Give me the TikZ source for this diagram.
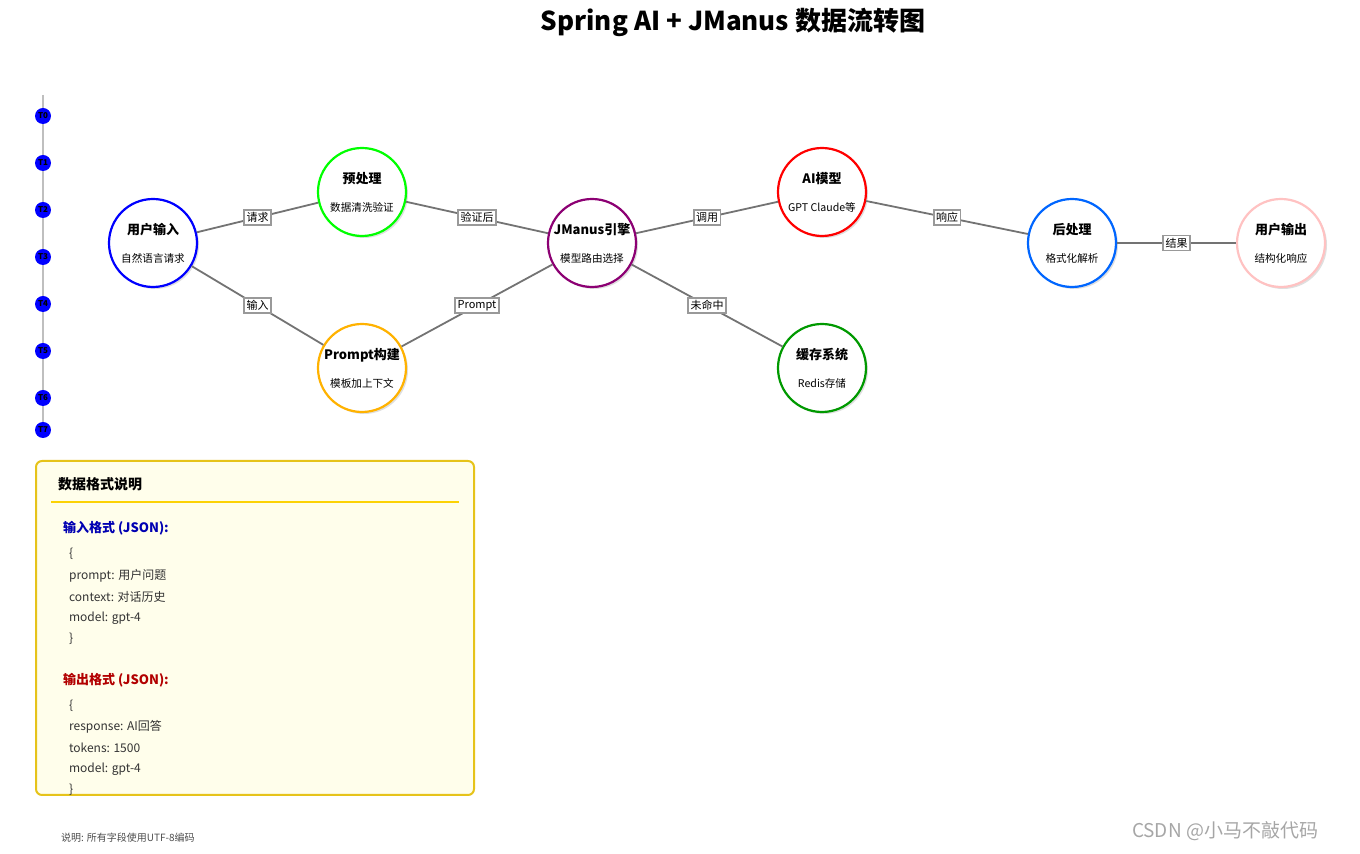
\documentclass[tikz,border=0pt]{standalone}
\usepackage{fontspec}
\setmainfont{Noto Sans CJK SC}
\usetikzlibrary{shadows}
\begin{document}
\begin{tikzpicture}[x=0.5pt,y=-0.5pt,
  proc/.style={circle,draw,line width=1.1pt,minimum size=44pt,inner sep=0pt,fill=white,align=center,
    drop shadow={shadow xshift=1pt,shadow yshift=-1pt,fill=black!25}},
  edge/.style={draw=black!55,line width=0.9pt},
  elab/.style={draw=black!40,fill=white,font=\fontsize{5.5}{6}\selectfont,inner sep=1.2pt},
  tdot/.style={circle,fill=blue,minimum size=8pt,inner sep=0pt,font=\fontsize{4}{4}\selectfont\bfseries},
  txt/.style={anchor=west,font=\fontsize{6}{7}\selectfont,text=black!80}]
\useasboundingbox (0,0) rectangle (1360,854);
\node[font=\fontsize{13}{15}\selectfont\bfseries] (title) at (733,22) {Spring AI + JManus 数据流转图};
% timeline
\coordinate (tl1) at (43,95); \coordinate (tl2) at (43,436);
\draw[black!25,line width=1.2pt] (tl1) -- (tl2);
\foreach \y/\t in {116/T0,163/T1,210/T2,257/T3,304/T4,351/T5,398/T6,430/T7}
  \node[tdot] (\t) at (43,\y) {\t};
\newcommand{\pn}[2]{{\fontsize{6.5}{8}\selectfont\bfseries #1}\\[2pt]{\fontsize{5.3}{6}\selectfont #2}}
\node[proc,draw=blue] (in) at (153,243) {\pn{用户输入}{自然语言请求}};
\node[proc,draw=green] (pre) at (362,192) {\pn{预处理}{数据清洗验证}};
\node[proc,draw=orange!60!yellow] (pr) at (362,368) {\pn{Prompt构建}{模板加上下文}};
\node[proc,draw=violet!80!purple] (jm) at (592,243) {\pn{JManus引擎}{模型路由选择}};
\node[proc,draw=red] (ai) at (822,192) {\pn{AI模型}{GPT Claude等}};
\node[proc,draw=green!60!black] (ca) at (822,368) {\pn{缓存系统}{Redis存储}};
\node[proc,draw=blue!60!cyan] (post) at (1072,243) {\pn{后处理}{格式化解析}};
\node[proc,draw=pink!80!red!60] (out) at (1281,243) {\pn{用户输出}{结构化响应}};
\path[edge] (in) -- node[elab]{请求} (pre);
\path[edge] (in) -- node[elab]{输入} (pr);
\path[edge] (pre) -- node[elab]{验证后} (jm);
\path[edge] (pr) -- node[elab]{Prompt} (jm);
\path[edge] (jm) -- node[elab]{调用} (ai);
\path[edge] (jm) -- node[elab]{未命中} (ca);
\path[edge] (ai) -- node[elab]{响应} (post);
\path[edge] (post) -- node[elab]{结果} (out);
% format box
\draw[draw=yellow!70!orange!90!black,fill=yellow!8,line width=1pt,rounded corners=3pt] (36,461) rectangle (474,795);
\node[anchor=west,font=\fontsize{7}{8}\selectfont\bfseries] (bh) at (51,484) {数据格式说明};
\draw[yellow!70!orange,line width=0.6pt] (51,502) -- (459,502);
\node[anchor=west,font=\fontsize{6.5}{8}\selectfont\bfseries,text=blue!70!black] (ih) at (56,528) {输入格式 (JSON):};
\node[txt] (i1) at (62,554) {\{};
\node[txt] (i2) at (62,576) {prompt: 用户问题};
\node[txt] (i3) at (62,597) {context: 对话历史};
\node[txt] (i4) at (62,618) {model: gpt-4};
\node[txt] (i5) at (62,639) {\}};
\node[anchor=west,font=\fontsize{6.5}{8}\selectfont\bfseries,text=red!70!black] (oh) at (56,680) {输出格式 (JSON):};
\node[txt] (o1) at (62,706) {\{};
\node[txt] (o2) at (62,727) {response: AI回答};
\node[txt] (o3) at (62,748) {tokens: 1500};
\node[txt] (o4) at (62,769) {model: gpt-4};
\node[txt] (o5) at (62,790) {\}};
\node[anchor=west,font=\fontsize{5}{6}\selectfont,text=black!70] (foot) at (54,838) {说明: 所有字段使用UTF-8编码};
\node[font=\fontsize{9.5}{11}\selectfont,text=black!35] (wm) at (1225,831) {CSDN @小马不敲代码};
\end{tikzpicture}
\end{document}
